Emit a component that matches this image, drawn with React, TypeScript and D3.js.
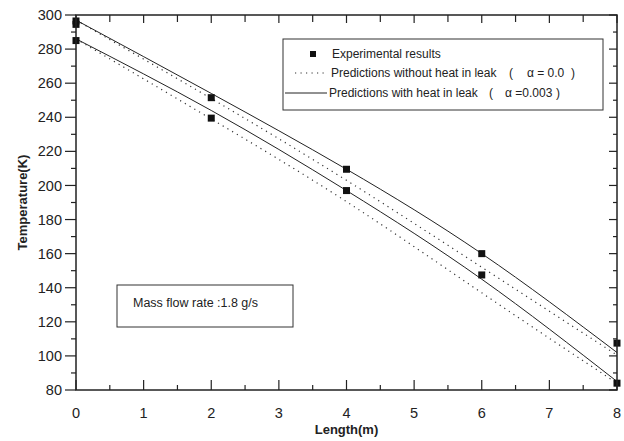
import React from "react";
import * as d3 from "d3";

// Positions along the line (m)
const lengths = [0, 2, 4, 6, 8];

// Experimental temperatures (K), two runs
const expUpper = [296.5, 251.5, 209.5, 160, 107.5];
const expUpperExtra = [294.5];
const expLower = [285, 239.5, 197, 147.5, 84];

// Predicted temperature profiles (K)
const withLeakUpper = [297, 254, 209.5, 160, 102];
const withoutLeakUpper = [297, 251, 203, 152, 100.5];
const withLeakLower = [286, 244, 197, 145, 85];
const withoutLeakLower = [286, 239, 190.5, 137, 84];

const xMajor = [0, 1, 2, 3, 4, 5, 6, 7, 8];
const yMajor = [80, 100, 120, 140, 160, 180, 200, 220, 240, 260, 280, 300];

const W = 624;
const H = 441;
const FONT = "'Liberation Sans', Arial, sans-serif";

export default function App() {
  const x = d3.scaleLinear().domain([0, 8]).range([76, 617]);
  const y = d3.scaleLinear().domain([80, 300]).range([390, 15]);
  const [x0, x1] = x.range();
  const [y0, y1] = y.range();

  const line = d3
    .line<[number, number]>()
    .x((d) => x(d[0]))
    .y((d) => y(d[1]))
    .curve(d3.curveNatural);

  const toPts = (vals: number[]) => lengths.map((l, i) => [l, vals[i]] as [number, number]);

  const xMinor = d3.range(0.5, 8, 1);
  const yMinor = d3.range(90, 300, 20);

  const solid = [withLeakUpper, withLeakLower];
  const dotted = [withoutLeakUpper, withoutLeakLower];

  const points: [number, number][] = [
    ...toPts(expUpper),
    ...expUpperExtra.map((v) => [0, v] as [number, number]),
    ...toPts(expLower),
  ];

  const sq = 7;

  return (
    <div style={{ position: "fixed", left: 0, top: 0 }}>
      <svg width={W} height={H} style={{ display: "block", background: "#fff" }} fontFamily={FONT}>
        {/* predictions */}
        {dotted.map((vals, i) => (
          <path
            key={"d" + i}
            d={line(toPts(vals)) || ""}
            fill="none"
            stroke="#333"
            strokeWidth={1.2}
            strokeDasharray="1.2 4.3"
          />
        ))}
        {solid.map((vals, i) => (
          <path key={"s" + i} d={line(toPts(vals)) || ""} fill="none" stroke="#222" strokeWidth={1} />
        ))}

        {/* experimental points */}
        {points.map((p, i) => (
          <rect
            key={"p" + i}
            x={x(p[0]) - sq / 2}
            y={y(p[1]) - sq / 2}
            width={sq}
            height={sq}
            fill="#111"
          />
        ))}

        {/* frame */}
        <rect x={x0} y={y1} width={x1 - x0} height={y0 - y1} fill="none" stroke="#222" strokeWidth={1.5} />

        {/* bottom axis: inward ticks */}
        {xMajor.map((v) => (
          <g key={"xb" + v}>
            <line x1={x(v)} x2={x(v)} y1={y0} y2={y0 - 10} stroke="#222" strokeWidth={1.2} />
            <line x1={x(v)} x2={x(v)} y1={y1} y2={y1 + 8} stroke="#222" strokeWidth={1.2} />
            <text x={x(v)} y={y0 + 28} textAnchor="middle" fontSize={14.5} fill="#222">
              {v}
            </text>
          </g>
        ))}
        {xMinor.map((v) => (
          <g key={"xm" + v}>
            <line x1={x(v)} x2={x(v)} y1={y0} y2={y0 - 5} stroke="#222" strokeWidth={1.2} />
            <line x1={x(v)} x2={x(v)} y1={y1} y2={y1 + 7} stroke="#222" strokeWidth={1.2} />
          </g>
        ))}

        {/* left axis: outward ticks; right axis: inward ticks */}
        {yMajor.map((v) => (
          <g key={"yl" + v}>
            <line x1={x0} x2={x0 - 11} y1={y(v)} y2={y(v)} stroke="#222" strokeWidth={1.2} />
            <line x1={x1} x2={x1 - 8} y1={y(v)} y2={y(v)} stroke="#222" strokeWidth={1.2} />
            <text x={x0 - 14} y={y(v)} dy="0.35em" textAnchor="end" fontSize={14.5} fill="#222">
              {v}
            </text>
          </g>
        ))}
        {yMinor.map((v) => (
          <g key={"ym" + v}>
            <line x1={x0} x2={x0 - 5} y1={y(v)} y2={y(v)} stroke="#222" strokeWidth={1.2} />
            <line x1={x1} x2={x1 - 4} y1={y(v)} y2={y(v)} stroke="#222" strokeWidth={1.2} />
          </g>
        ))}

        {/* axis titles */}
        <text x={(x0 + x1) / 2} y={434} textAnchor="middle" fontSize={13} fontWeight="bold" fill="#222">
          Length(m)
        </text>
        <text
          transform={`translate(27, ${(y0 + y1) / 2}) rotate(-90)`}
          textAnchor="middle"
          fontSize={13}
          fontWeight="bold"
          fill="#222"
        >
          Temperature(K)
        </text>

        {/* legend */}
        <g fontSize={12} fill="#222">
          <rect x={283} y={39} width={320} height={71} fill="#fff" stroke="#333" strokeWidth={1} />
          <rect x={310} y={51} width={6} height={6} fill="#111" />
          <text x={332} y={58}>Experimental results</text>
          <line x1={295} x2={328} y1={73} y2={73} stroke="#333" strokeWidth={1.2} strokeDasharray="1.2 4.3" />
          <text x={331} y={77}>Predictions without heat in leak</text>
          <text x={509} y={77}>(</text>
          <text x={527} y={77}>α = 0.0</text>
          <text x={571} y={77}>)</text>
          <line x1={285} x2={327} y1={93} y2={93} stroke="#222" strokeWidth={1} />
          <text x={329} y={97}>Predictions with heat in leak</text>
          <text x={489} y={97}>(</text>
          <text x={505} y={97}>α =0.003</text>
          <text x={556} y={97}>)</text>
        </g>

        {/* annotation */}
        <rect x={117} y={285} width={176} height={42} fill="#fff" stroke="#333" strokeWidth={1} />
        <text x={133} y={307} fontSize={12.5} fill="#222">
          Mass flow rate :1.8 g/s
        </text>
      </svg>
    </div>
  );
}
